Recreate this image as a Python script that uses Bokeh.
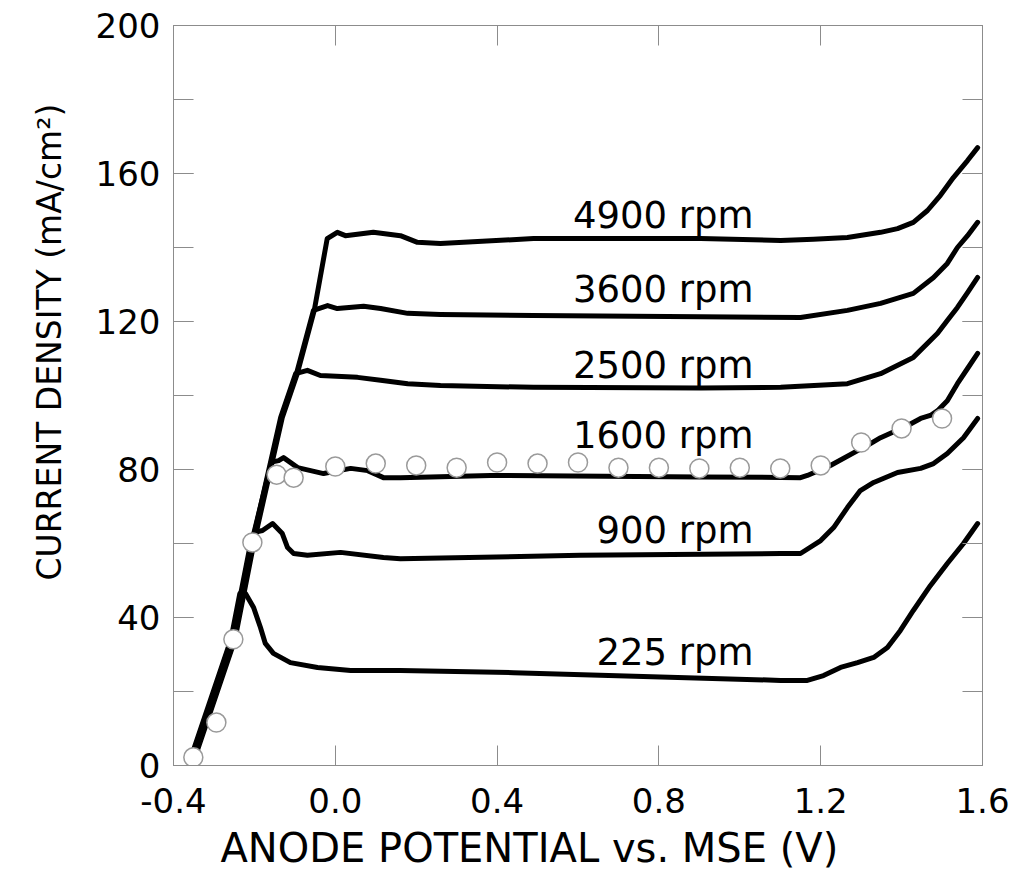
from bokeh.plotting import figure
from bokeh.models import (Range1d, LinearAxis, SingleIntervalTicker,
                          CustomJSTickFormatter, NumeralTickFormatter, Title)
from bokeh.core.properties import value
from bokeh.embed import file_html
from bokeh.resources import INLINE

# ---------------- data ----------------
V_4900 = [-0.349, -0.248, -0.201, -0.131, -0.094, -0.052, -0.020, 0.005, 0.025, 0.094,
          0.161, 0.203, 0.260, 0.490, 0.903, 1.101, 1.182, 1.266, 1.348, 1.390,
          1.429, 1.464, 1.496, 1.528, 1.563, 1.588]
I_4900 = [1.5, 34.1, 60.3, 94.1, 105.9, 123.0, 142.4, 144.1, 143.2, 144.1,
          143.2, 141.4, 141.1, 142.4, 142.4, 141.9, 142.2, 142.7, 144.1, 145.1,
          146.8, 150.0, 154.1, 158.9, 163.5, 167.0]

V_3600 = [-0.351, -0.250, -0.203, -0.133, -0.096, -0.054, -0.019, 0.005, 0.070, 0.112,
          0.179, 0.260, 0.490, 0.903, 1.150, 1.266, 1.348, 1.429, 1.479, 1.513,
          1.538, 1.563, 1.588]
I_3600 = [1.5, 34.1, 60.3, 94.1, 105.9, 123.0, 124.3, 123.5, 124.1, 123.5,
          122.2, 121.9, 121.6, 121.3, 121.1, 123.0, 124.9, 127.6, 131.9, 135.7,
          140.0, 143.2, 146.8]

V_2500 = [-0.353, -0.252, -0.205, -0.135, -0.098, -0.069, -0.037, 0.055, 0.112, 0.179,
          0.260, 0.490, 0.903, 1.101, 1.266, 1.348, 1.429, 1.489, 1.513, 1.538,
          1.563, 1.588]
I_2500 = [1.5, 34.1, 60.3, 94.1, 105.9, 106.8, 105.4, 104.9, 104.1, 103.2,
          102.7, 102.2, 102.0, 102.2, 103.2, 105.9, 110.3, 116.8, 120.3, 123.8,
          127.8, 131.9]

V_1600 = [-0.355, -0.254, -0.207, -0.158, -0.140, -0.128, -0.093, -0.029, 0.038, 0.080,
          0.119, 0.161, 0.384, 0.903, 1.150, 1.167, 1.224, 1.323, 1.348, 1.415,
          1.447, 1.471, 1.489, 1.513, 1.538, 1.563, 1.588]
I_1600 = [1.5, 34.1, 60.3, 82.0, 82.4, 83.2, 80.5, 78.9, 80.3, 79.7,
          77.8, 77.8, 78.4, 78.0, 77.8, 78.4, 81.1, 87.0, 88.6, 91.9,
          93.8, 94.6, 95.9, 98.6, 103.2, 107.3, 111.4]

V_900 = [-0.357, -0.256, -0.209, -0.200, -0.180, -0.155, -0.131, -0.118, -0.103, -0.069,
         0.013, 0.119, 0.161, 0.606, 1.101, 1.150, 1.200, 1.232, 1.266, 1.298,
         1.331, 1.390, 1.447, 1.479, 1.513, 1.553, 1.588]
I_900 = [1.5, 34.1, 60.3, 63.0, 63.5, 65.4, 62.7, 58.9, 57.3, 56.8,
         57.6, 56.2, 55.9, 56.8, 57.3, 57.3, 60.8, 64.3, 69.7, 74.3,
         76.5, 79.2, 80.3, 81.6, 84.3, 88.6, 93.8]

V_225 = [-0.359, -0.258, -0.236, -0.222, -0.202, -0.185, -0.173, -0.153, -0.111, -0.044,
         0.038, 0.161, 0.441, 1.101, 1.167, 1.207, 1.249, 1.291, 1.331, 1.365,
         1.397, 1.429, 1.471, 1.513, 1.553, 1.588]
I_225 = [1.5, 34.1, 46.5, 46.5, 42.7, 37.3, 33.0, 30.3, 27.8, 26.5,
         25.7, 25.7, 25.1, 23.0, 23.0, 24.3, 26.5, 27.8, 29.2, 31.9,
         36.5, 41.9, 48.6, 54.6, 60.0, 65.4]

# open circles (1600 rpm comparison points)
V_pts = [-0.351, -0.294, -0.252, -0.205, -0.145, -0.103, 0.0, 0.1, 0.2, 0.3,
         0.4, 0.5, 0.6, 0.7, 0.8, 0.9, 1.0, 1.1, 1.2, 1.3, 1.4, 1.5]
I_pts = [2.2, 11.6, 34.1, 60.3, 78.6, 77.8, 80.8, 81.6, 81.1, 80.5,
         81.9, 81.6, 81.9, 80.5, 80.5, 80.3, 80.5, 80.3, 81.1, 87.3, 91.1, 93.8]

curve_labels = ["4900 rpm", "3600 rpm", "2500 rpm", "1600 rpm", "900 rpm", "225 rpm"]
label_v = [1.034, 1.034, 1.034, 1.034, 1.034, 1.034]
label_i = [148.6, 128.6, 108.1, 89.2, 63.5, 30.5]

x_title = "ANODE POTENTIAL vs. MSE (V)"
y_title = "CURRENT DENSITY (mA/cm²)"
x_ticks_step = 0.4
y_ticks_step = 40

# ---------------- figure ----------------
FONT = "DejaVu Sans"
FS = "34px"
FRAME = "#8c8c8c"

p = figure(frame_width=809, frame_height=740,
           x_range=Range1d(-0.4, 1.6), y_range=Range1d(0, 200),
           output_backend="svg", toolbar_location=None,
           min_border_left=173, min_border_right=31,
           min_border_top=25, min_border_bottom=100)
p.xgrid.visible = False
p.ygrid.visible = False
p.outline_line_color = FRAME
p.background_fill_color = "white"
p.border_fill_color = "white"


def style_axis(ax):
    ax.axis_line_color = FRAME
    ax.axis_line_width = 1
    ax.major_tick_in = 20
    ax.major_tick_out = 0
    ax.minor_tick_in = 20
    ax.minor_tick_out = 0
    ax.major_tick_line_color = FRAME
    ax.minor_tick_line_color = FRAME
    ax.major_label_text_font = FONT
    ax.major_label_text_font_size = FS
    ax.major_label_text_color = "black"


xa = p.xaxis[0]
ya = p.yaxis[0]
xa.ticker = SingleIntervalTicker(interval=x_ticks_step, num_minor_ticks=0)
ya.ticker = SingleIntervalTicker(interval=y_ticks_step, num_minor_ticks=2)
xa.formatter = NumeralTickFormatter(format="0.0")
style_axis(xa)
style_axis(ya)
xa.major_label_standoff = 22
ya.major_label_standoff = 13

blank = CustomJSTickFormatter(code="return ''")
top = LinearAxis(ticker=SingleIntervalTicker(interval=x_ticks_step, num_minor_ticks=0),
                 formatter=blank)
right = LinearAxis(ticker=SingleIntervalTicker(interval=y_ticks_step, num_minor_ticks=2),
                   formatter=blank)
style_axis(top)
style_axis(right)
p.add_layout(top, "above")
p.add_layout(right, "right")

# axis titles as panel titles (shifted along the axis like the reference)
p.add_layout(Title(text=x_title, align="left", offset=47, standoff=14,
                   text_font=FONT, text_font_size="40px", text_font_style="normal",
                   text_color="black"), "below")
p.add_layout(Title(text=y_title, align="left", offset=185, standoff=47,
                   text_font=FONT, text_font_size="33px", text_font_style="normal",
                   text_color="black"), "left")

for V, I in [(V_225, I_225), (V_900, I_900), (V_1600, I_1600),
             (V_2500, I_2500), (V_3600, I_3600), (V_4900, I_4900)]:
    p.line(V, I, line_color="black", line_width=5, line_join="round", line_cap="round")

p.scatter(V_pts, I_pts, marker="circle", size=19, fill_color="white",
          line_color="#9a9a9a", line_width=1.5)

p.text(x=label_v, y=label_i, text=curve_labels, text_align="right",
       text_baseline="middle", text_font=value(FONT), text_font_size="37px",
       text_color="black")

open("out.html", "w").write(file_html(p, INLINE, title="Current density vs anode potential"))
